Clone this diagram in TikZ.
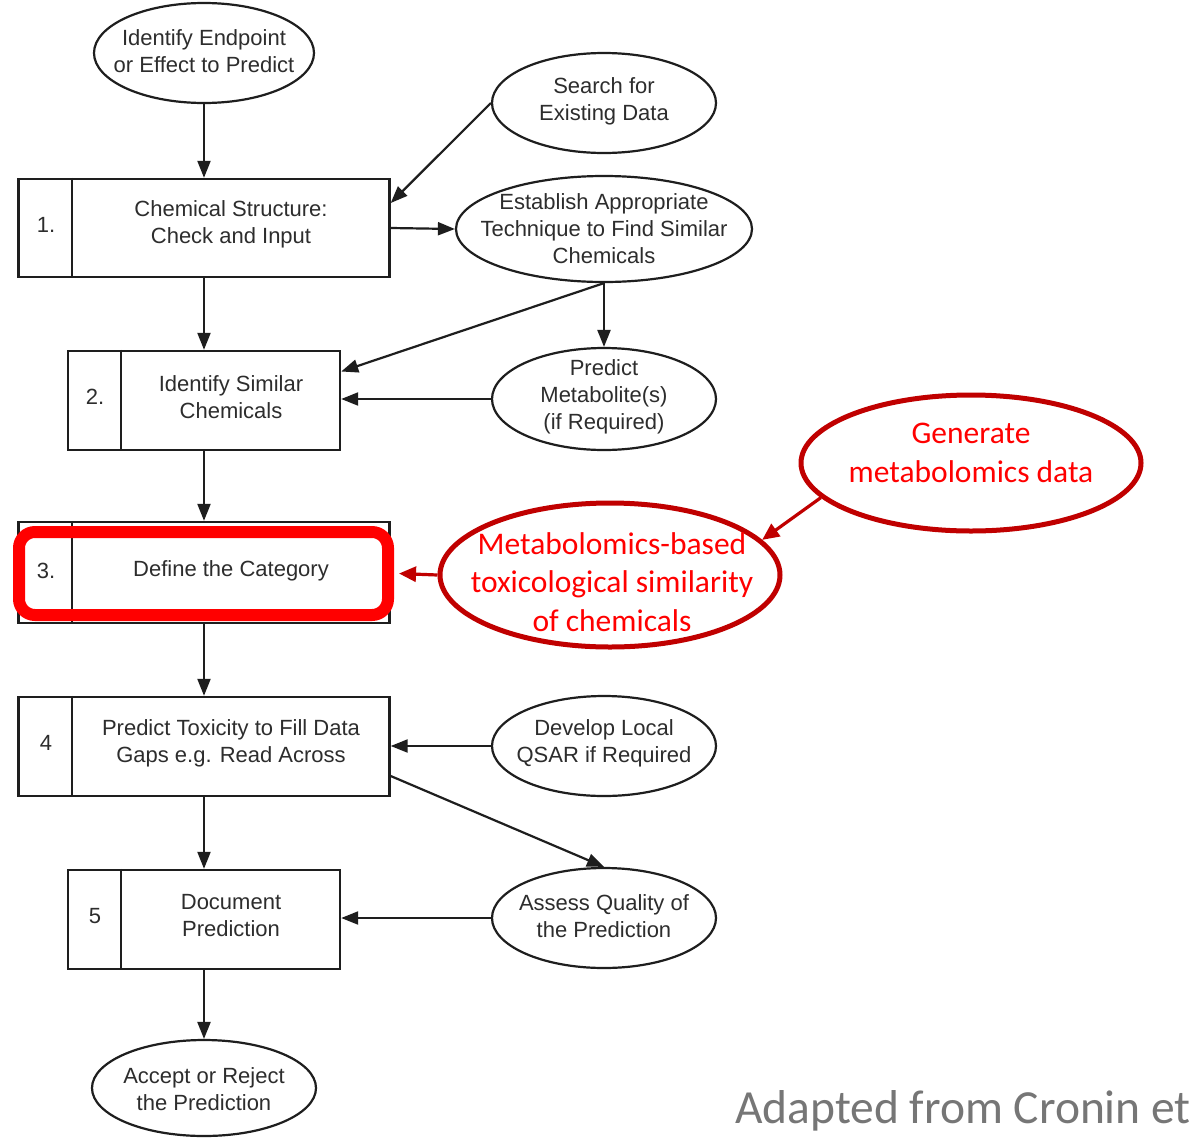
\documentclass[tikz,border=0pt]{standalone}
\usepackage{fontspec}
\setmainfont{Liberation Sans}
\newfontfamily\calib{Carlito}
\usetikzlibrary{arrows.meta,shapes.geometric,calc}
\definecolor{txt}{RGB}{45,45,45}
\definecolor{ln}{RGB}{30,30,30}
\definecolor{dred}{RGB}{192,0,0}
\definecolor{bred}{RGB}{255,0,0}
\definecolor{grayt}{RGB}{118,118,118}
\begin{document}
\begin{tikzpicture}[x=1pt,y=-1pt,
  box/.style={draw=ln,line width=2.4pt,rectangle,inner sep=0pt},
  oval/.style={draw=ln,line width=2.2pt,ellipse,inner sep=0pt},
  roval/.style={draw=dred,line width=5pt,ellipse,inner sep=0pt},
  lbl/.style={text=txt,font=\fontsize{22}{27}\selectfont,align=center,inner sep=0pt},
  rlbl/.style={text=bred,font=\calib\fontsize{31.5}{38.5}\selectfont,align=center,inner sep=0pt},
  arr/.style={draw=ln,line width=2.2pt,-{Triangle[length=17pt,width=13pt]}},
  rarr/.style={draw=dred,line width=3.2pt,-{Triangle[length=17pt,width=15pt]}},
  divl/.style={draw=ln,line width=2.2pt}]
\useasboundingbox[fill=white] (0,0) rectangle (1194,1138);

% ---- ellipses (black)
\node[oval,minimum width=220pt,minimum height=100pt] (e0) at (204,53) {};
\node[lbl] at (204,51) {Identify Endpoint\\or Effect to Predict};
\node[oval,minimum width=224pt,minimum height=100pt] (eS) at (604,103) {};
\node[lbl] at (604,101) {Search for\\Existing Data};
\node[oval,minimum width=296pt,minimum height=106pt] (eE) at (604,229) {};
\node[lbl] at (604,228.5) {Establish Appropriate\\Technique to Find Similar\\Chemicals};
\node[oval,minimum width=224pt,minimum height=102pt] (eP) at (604,399) {};
\node[lbl] at (604,397) {Predict\\Metabolite(s)\\(if Required)};
\node[oval,minimum width=224pt,minimum height=100pt] (eD) at (604,746) {};
\node[lbl] at (604,743) {Develop Local\\QSAR if Required};
\node[oval,minimum width=224pt,minimum height=100pt] (eA) at (604,918) {};
\node[lbl] at (604,916) {Assess Quality of\\the Prediction};
\node[oval,minimum width=224pt,minimum height=96pt] (eR) at (204,1088) {};
\node[lbl] at (204,1089) {Accept or Reject\\the Prediction};

% ---- step boxes
\node[box,minimum width=371pt,minimum height=98pt] (b1) at (204,228) {};
\draw[divl] ($(b1.north west)+(55,0)$) -- ($(b1.south west)+(55,0)$);
\node[lbl] at (46,225) {1.};
\node[lbl] at (231,224) {Chemical Structure:\\Check and Input};

\node[box,minimum width=272pt,minimum height=99pt] (b2) at (204,400.5) {};
\draw[divl] ($(b2.north west)+(54,0)$) -- ($(b2.south west)+(54,0)$);
\node[lbl] at (95,397) {2.};
\node[lbl] at (231,397) {Identify Similar\\Chemicals};

\node[box,minimum width=371pt,minimum height=101pt] (b3) at (204,572.5) {};
\draw[divl] ($(b3.north west)+(55,0)$) -- ($(b3.south west)+(55,0)$);
\node[lbl] at (46,571) {3.};
\node[lbl] at (231,571) {Define the Category};

\node[box,minimum width=371pt,minimum height=99pt] (b4) at (204,746.5) {};
\draw[divl] ($(b4.north west)+(55,0)$) -- ($(b4.south west)+(55,0)$);
\node[lbl] at (46,743) {4};
\node[lbl] at (231,743) {Predict Toxicity to Fill Data\\Gaps e.g. Read Across};

\node[box,minimum width=272pt,minimum height=99pt] (b5) at (204,919.5) {};
\draw[divl] ($(b5.north west)+(54,0)$) -- ($(b5.south west)+(54,0)$);
\node[lbl] at (95,916) {5};
\node[lbl] at (231,916) {Document\\Prediction};

% ---- highlight
\node[draw=bred,line width=12pt,rounded corners=16pt,minimum width=369pt,minimum height=83pt,inner sep=0pt] (hl) at (203.5,573.5) {};

% ---- red ellipses
\node[roval,minimum width=340pt,minimum height=144pt] (eM) at (610,575) {};
\node[rlbl] at (612,582) {Metabolomics-based\\toxicological similarity\\of chemicals};
\node[roval,minimum width=340pt,minimum height=136pt] (eG) at (971,463) {};
\node[rlbl] at (971,453) {Generate\\metabolomics data};

% ---- connectors
\draw[arr] (e0.south) -- (b1.north);
\draw[arr] (b1.south) -- (b2.north);
\draw[arr] (b2.south) -- (b3.north);
\draw[arr] (b3.south) -- (b4.north);
\draw[arr] (b4.south) -- (b5.north);
\draw[arr] (b5.south) -- (eR.north);
\draw[arr] (eS.west) -- ([yshift=25pt]b1.east);
\draw[arr] (b1.east) -- (eE.west);
\draw[arr] (eE.south) -- ([yshift=29pt]b2.east);
\draw[arr] (eE.south) -- (eP.north);
\draw[arr] (eP.west) -- (eP.west -| b2.east);
\draw[arr] (eD.west) -- (eD.west -| b4.east);
\draw[arr] ([yshift=-29.5pt]b4.east) -- (eA.north);
\draw[arr] (eA.west) -- (eA.west -| b5.east);
\draw[rarr] (eM.west) -- ([xshift=5pt]hl.east);
\draw[rarr] (eG.193) -- (eM.13);

% ---- source note
\node[anchor=base west,inner sep=0pt,text=grayt,font=\calib\fontsize{47.5}{52}\selectfont] (src) at (735,1123) {Adapted from Cronin et};
\end{tikzpicture}
\end{document}
